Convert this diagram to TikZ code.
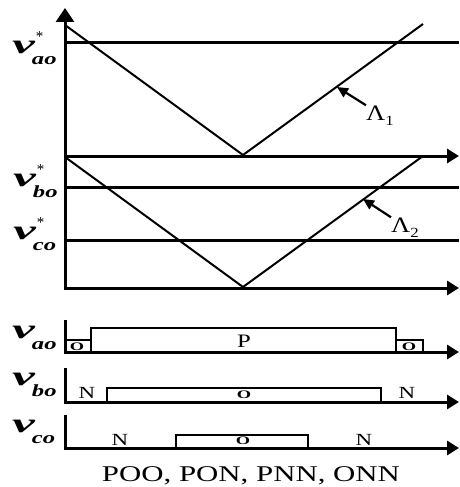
\documentclass[tikz,border=0pt]{standalone}
\usepackage{fontspec}
\setmainfont{Liberation Serif}
\usepackage{graphicx}
\usepackage{tikz}
\usetikzlibrary{arrows.meta,positioning,calc}
\newcommand{\wide}[2][1.35]{\scalebox{#1}[1]{#2}}
\newcommand{\volt}[2]{%
  \wide[1.9]{\fontsize{27}{27}\selectfont\bfseries\itshape v}%
  \rlap{\kern1pt\raisebox{12pt}{\fontsize{15}{15}\selectfont #2}}%
  \kern-3pt\raisebox{-11pt}{\wide[1.45]{\fontsize{17}{17}\selectfont\bfseries\itshape #1}}}
\newcommand{\lam}[1]{%
  \wide[1.2]{\fontsize{22}{22}\selectfont Λ}%
  \raisebox{-5pt}{\wide[1.2]{\fontsize{14}{14}\selectfont #1}}}
\tikzset{
  axis/.style={line width=3pt},
  level/.style={line width=3pt},
  carrier/.style={line width=2pt},
  pulse/.style={line width=2.8pt},
  uptip/.tip={Triangle[length=14pt,width=18pt]},
  righttip/.tip={Triangle[length=12pt,width=14pt]},
  vlabel/.style={inner sep=0pt,anchor=base west},
  lamlabel/.style={inner sep=0pt,anchor=base west},
  pointer/.style={line width=2.2pt,-{Triangle[length=11pt,width=10pt]}},
  state/.style={inner sep=0pt,font=\fontsize{17}{17}\selectfont},
  zero/.style={inner sep=0pt,font=\fontsize{11.5}{11.5}\selectfont\bfseries},
  caption/.style={inner sep=0pt,anchor=base,font=\fontsize{22.5}{22.5}\selectfont}
}
\begin{document}
\begin{tikzpicture}[x=1pt,y=-1pt]
  \useasboundingbox (0,0) rectangle (459,487);

  \draw[axis,uptip-righttip] (65,8) |- (459,288);
  \draw[axis,-righttip] (65,156) -- (459,156);

  \draw[level] (65,43) -- (459,43);
  \draw[level] (65,187) -- (459,187);
  \draw[level] (65,240) -- (459,240);

  \draw[carrier] (65,25) -- (243,155) -- (423,24);
  \draw[carrier] (65,157) -- (243,287) -- (423,156);

  \node[vlabel] (refa) at (12,54) {\volt{ao}{*}};
  \node[vlabel] (refb) at (13,186) {\volt{bo}{*}};
  \node[vlabel] (refc) at (13,239) {\volt{co}{*}};

  \node[lamlabel] (lam1) at (366,120) {\lam{1}};
  \node[lamlabel] (lam2) at (391,232) {\lam{2}};
  \coordinate (tip1) at (337,87);
  \coordinate (tip2) at (363,199);
  \draw[pointer] (lam1.north west) -- (tip1);
  \draw[pointer] (lam2.north west) -- (tip2);

  \node[vlabel] (outa) at (12,338) {\volt{ao}{}};
  \node[vlabel] (outb) at (12,385) {\volt{bo}{}};
  \node[vlabel] (outc) at (12,432) {\volt{co}{}};

  \draw[axis,-righttip] (65,320) |- (459,352);
  \draw[axis,-righttip] (65,368) |- (459,402);
  \draw[axis,-righttip] (65,415) |- (459,448);

  \draw[pulse] (65,340) -| (91,328) -| (396,340) -| (423,352);
  \draw[pulse] (91,340) -- (91,352);
  \draw[pulse] (396,340) -- (396,352);
  \draw[pulse] (107,402) |- (381,388) -- (381,402);
  \draw[pulse] (176,448) |- (308,435) -- (308,448);

  \node[zero] (za1) at (77,347) {\wide[1.6]{O}};
  \node[state] (pa) at (244,341) {\wide[1.3]{\fontsize{19}{19}\selectfont P}};
  \node[zero] (za2) at (409,347) {\wide[1.6]{O}};

  \node[state] (nb1) at (87,393) {\wide{N}};
  \node[zero] (zb) at (244,395) {\wide[1.6]{O}};
  \node[state] (nb2) at (407,393) {\wide{N}};

  \node[state] (nc1) at (120,440) {\wide{N}};
  \node[zero] (zc) at (243,441) {\wide[1.6]{O}};
  \node[state] (nc2) at (364,440) {\wide{N}};

  \node[caption] (states) at (251,481) {\wide[1.37]{POO, PON, PNN, ONN}};
\end{tikzpicture}
\end{document}
